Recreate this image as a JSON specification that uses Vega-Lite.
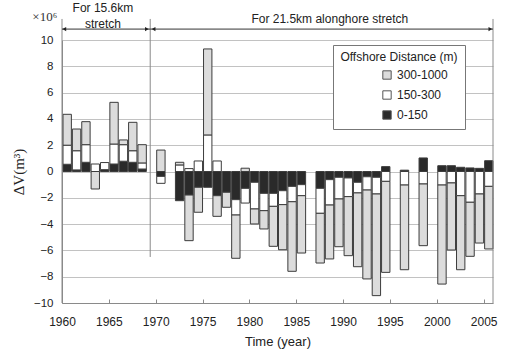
{
  "$schema": "https://vega.github.io/schema/vega-lite/v6.json",
  "width": 431,
  "height": 263,
  "autosize": {"type": "none"},
  "padding": {"left": 62, "top": 40, "right": 12, "bottom": 50},
  "background": "white",
  "config": {
    "font": "Liberation Sans",
    "view": {"stroke": null}
  },
  "datasets": {
    "bars": [
      {"year": "1960", "zone": "0-150", "v": 0.55}, {"year": "1960", "zone": "150-300", "v": 1.45}, {"year": "1960", "zone": "300-1000", "v": 2.35},
      {"year": "1961", "zone": "0-150", "v": 0.12}, {"year": "1961", "zone": "150-300", "v": 1.46}, {"year": "1961", "zone": "300-1000", "v": 1.65},
      {"year": "1962", "zone": "0-150", "v": 0.7}, {"year": "1962", "zone": "150-300", "v": 1.34}, {"year": "1962", "zone": "300-1000", "v": 1.75},
      {"year": "1963", "zone": "150-300", "v": 0.57}, {"year": "1963", "zone": "300-1000", "v": -1.33},
      {"year": "1964", "zone": "0-150", "v": 0.14}, {"year": "1964", "zone": "150-300", "v": 0.86}, {"year": "1964", "zone": "150-300", "v": -0.32},
      {"year": "1965", "zone": "0-150", "v": 0.57}, {"year": "1965", "zone": "150-300", "v": 1.52}, {"year": "1965", "zone": "300-1000", "v": 3.17},
      {"year": "1966", "zone": "0-150", "v": 0.78}, {"year": "1966", "zone": "150-300", "v": 1.26}, {"year": "1966", "zone": "300-1000", "v": 0.36},
      {"year": "1967", "zone": "0-150", "v": 0.7}, {"year": "1967", "zone": "150-300", "v": 0.88}, {"year": "1967", "zone": "300-1000", "v": 2.16},
      {"year": "1968", "zone": "0-150", "v": 0.19}, {"year": "1968", "zone": "150-300", "v": 0.46}, {"year": "1968", "zone": "300-1000", "v": 1.39},
      {"year": "1970", "zone": "300-1000", "v": 1.63}, {"year": "1970", "zone": "0-150", "v": -0.37}, {"year": "1970", "zone": "150-300", "v": -0.53},
      {"year": "1972", "zone": "150-300", "v": 0.5}, {"year": "1972", "zone": "300-1000", "v": 0.2}, {"year": "1972", "zone": "0-150", "v": -2.22},
      {"year": "1973", "zone": "150-300", "v": 0.22}, {"year": "1973", "zone": "0-150", "v": -1.79}, {"year": "1973", "zone": "300-1000", "v": -3.47},
      {"year": "1974", "zone": "150-300", "v": 0.8}, {"year": "1974", "zone": "0-150", "v": -1.2}, {"year": "1974", "zone": "300-1000", "v": -1.9},
      {"year": "1975", "zone": "150-300", "v": 2.78}, {"year": "1975", "zone": "300-1000", "v": 6.54}, {"year": "1975", "zone": "0-150", "v": -1.2},
      {"year": "1976", "zone": "150-300", "v": 0.8}, {"year": "1976", "zone": "0-150", "v": -1.84}, {"year": "1976", "zone": "300-1000", "v": -1.57},
      {"year": "1977", "zone": "0-150", "v": -1.58}, {"year": "1977", "zone": "300-1000", "v": -1.14},
      {"year": "1978", "zone": "0-150", "v": -2.14}, {"year": "1978", "zone": "150-300", "v": -1.17}, {"year": "1978", "zone": "300-1000", "v": -3.29},
      {"year": "1979", "zone": "300-1000", "v": 0.25}, {"year": "1979", "zone": "0-150", "v": -1.28}, {"year": "1979", "zone": "150-300", "v": -1.12},
      {"year": "1980", "zone": "0-150", "v": -0.82}, {"year": "1980", "zone": "150-300", "v": -2.03}, {"year": "1980", "zone": "300-1000", "v": -1.14},
      {"year": "1981", "zone": "0-150", "v": -1.66}, {"year": "1981", "zone": "150-300", "v": -1.32}, {"year": "1981", "zone": "300-1000", "v": -1.39},
      {"year": "1982", "zone": "0-150", "v": -1.66}, {"year": "1982", "zone": "150-300", "v": -0.99}, {"year": "1982", "zone": "300-1000", "v": -3.04},
      {"year": "1983", "zone": "0-150", "v": -1.46}, {"year": "1983", "zone": "150-300", "v": -1.06}, {"year": "1983", "zone": "300-1000", "v": -3.43},
      {"year": "1984", "zone": "0-150", "v": -1.13}, {"year": "1984", "zone": "150-300", "v": -1.17}, {"year": "1984", "zone": "300-1000", "v": -5.29},
      {"year": "1985", "zone": "0-150", "v": -1.0}, {"year": "1985", "zone": "150-300", "v": -0.84}, {"year": "1985", "zone": "300-1000", "v": -4.36},
      {"year": "1987", "zone": "0-150", "v": -1.28}, {"year": "1987", "zone": "150-300", "v": -1.9}, {"year": "1987", "zone": "300-1000", "v": -3.78},
      {"year": "1988", "zone": "0-150", "v": -0.62}, {"year": "1988", "zone": "150-300", "v": -1.93}, {"year": "1988", "zone": "300-1000", "v": -4.1},
      {"year": "1989", "zone": "0-150", "v": -0.44}, {"year": "1989", "zone": "150-300", "v": -1.65}, {"year": "1989", "zone": "300-1000", "v": -3.63},
      {"year": "1990", "zone": "0-150", "v": -0.49}, {"year": "1990", "zone": "150-300", "v": -1.42}, {"year": "1990", "zone": "300-1000", "v": -4.49},
      {"year": "1991", "zone": "0-150", "v": -0.82}, {"year": "1991", "zone": "150-300", "v": -0.81}, {"year": "1991", "zone": "300-1000", "v": -5.61},
      {"year": "1992", "zone": "0-150", "v": -0.4}, {"year": "1992", "zone": "150-300", "v": -1.01}, {"year": "1992", "zone": "300-1000", "v": -6.76},
      {"year": "1993", "zone": "0-150", "v": -0.44}, {"year": "1993", "zone": "150-300", "v": -1.27}, {"year": "1993", "zone": "300-1000", "v": -7.73},
      {"year": "1994", "zone": "0-150", "v": 0.37}, {"year": "1994", "zone": "150-300", "v": -0.75}, {"year": "1994", "zone": "300-1000", "v": -6.92},
      {"year": "1996", "zone": "0-150", "v": 0.1}, {"year": "1996", "zone": "150-300", "v": -1.03}, {"year": "1996", "zone": "300-1000", "v": -6.44},
      {"year": "1998", "zone": "0-150", "v": 1.03}, {"year": "1998", "zone": "150-300", "v": -0.95}, {"year": "1998", "zone": "300-1000", "v": -4.69},
      {"year": "2000", "zone": "0-150", "v": 0.44}, {"year": "2000", "zone": "150-300", "v": -1.03}, {"year": "2000", "zone": "300-1000", "v": -7.53},
      {"year": "2001", "zone": "0-150", "v": 0.44}, {"year": "2001", "zone": "150-300", "v": -0.87}, {"year": "2001", "zone": "300-1000", "v": -5.1},
      {"year": "2002", "zone": "0-150", "v": 0.32}, {"year": "2002", "zone": "150-300", "v": -1.84}, {"year": "2002", "zone": "300-1000", "v": -5.63},
      {"year": "2003", "zone": "0-150", "v": 0.27}, {"year": "2003", "zone": "150-300", "v": -2.34}, {"year": "2003", "zone": "300-1000", "v": -4.11},
      {"year": "2004", "zone": "0-150", "v": 0.24}, {"year": "2004", "zone": "150-300", "v": -1.71}, {"year": "2004", "zone": "300-1000", "v": -3.73},
      {"year": "2005", "zone": "0-150", "v": 0.82}, {"year": "2005", "zone": "150-300", "v": -1.13}, {"year": "2005", "zone": "300-1000", "v": -4.76}
    ],
    "vrules": [
      {"x": "1960-01-01", "y": -10, "y2": 11.6},
      {"x": "1969-06-01", "y": -6.5, "y2": 11.6},
      {"x": "2006-01-01", "y": -10, "y2": 11.6}
    ],
    "hrules": [
      {"x": "1960-01-01", "x2": "1969-06-01", "y": 10.83},
      {"x": "1969-06-01", "x2": "2006-01-01", "y": 10.83}
    ],
    "heads": [
      {"x": "1960-04-01", "dir": "left", "y": 10.83},
      {"x": "1969-01-20", "dir": "right", "y": 10.83},
      {"x": "1969-10-10", "dir": "left", "y": 10.83},
      {"x": "2005-09-20", "dir": "right", "y": 10.83}
    ],
    "notes": [
      {"x": "1964-05-15", "y": 12.45, "t": ["For 15.6km", "stretch"]},
      {"x": "1988-08-01", "y": 11.6, "t": ["For 21.5km alonghore stretch"]}
    ],
    "unit": [
      {"x": "1958-03-01", "y": 11.75, "t": "×10⁶"}
    ]
  },
  "encoding": {
    "y": {
      "type": "quantitative",
      "scale": {"domain": [-10, 10], "nice": false, "zero": false},
      "axis": {
        "title": "ΔV(m³)",
        "values": [-10, -8, -6, -4, -2, 0, 2, 4, 6, 8, 10],
        "tickCount": 11,
        "grid": true,
        "gridColor": "#c2c2c2",
        "ticks": false,
        "domainColor": "#8a8a8a",
        "labelPadding": 9,
        "labelFontSize": 11.5,
        "labelColor": "#222",
        "labelOverlap": false,
        "labelFlush": false,
        "titleFont": "Liberation Serif",
        "titleFontSize": 15,
        "titleFontWeight": "normal",
        "titleColor": "#222",
        "titlePadding": 7
      }
    }
  },
  "layer": [
    {
      "data": {"name": "bars"},
      "mark": {"type": "bar", "stroke": "#3c3c3c", "strokeWidth": 1, "timeUnitBandSize": 0.74},
      "encoding": {
        "x": {
          "field": "year", "type": "temporal", "timeUnit": "utcyear",
          "scale": {"type": "utc", "domain": [{"year": 1960, "utc": true}, {"year": 2006, "utc": true}], "nice": false},
          "axis": {
            "title": "Time (year)",
            "values": [
              {"year": 1960, "utc": true}, {"year": 1965, "utc": true}, {"year": 1970, "utc": true},
              {"year": 1975, "utc": true}, {"year": 1980, "utc": true}, {"year": 1985, "utc": true},
              {"year": 1990, "utc": true}, {"year": 1995, "utc": true}, {"year": 2000, "utc": true},
              {"year": 2005, "utc": true}
            ],
            "format": "%Y",
            "grid": false,
            "domainColor": "#8a8a8a",
            "tickColor": "#8a8a8a",
            "tickSize": -4,
            "labelPadding": 17,
            "labelFontSize": 12,
            "labelColor": "#222",
            "labelFlush": false,
            "labelOverlap": false,
            "titleFontSize": 13,
            "titleFontWeight": "normal",
            "titleColor": "#222",
            "titlePadding": 8
          }
        },
        "y": {"field": "v", "aggregate": "sum"},
        "color": {
          "field": "zone", "type": "nominal",
          "scale": {"domain": ["300-1000", "150-300", "0-150"], "range": ["#dcdcdc", "#ffffff", "#2a2a2a"]},
          "legend": {
            "title": "Offshore Distance (m)",
            "orient": "none",
            "legendX": 271,
            "legendY": 5,
            "titleAnchor": "middle",
            "titleFontSize": 12,
            "titleFontWeight": "normal",
            "titleColor": "#222",
            "labelFontSize": 12,
            "labelColor": "#222",
            "symbolType": "square",
            "symbolSize": 70,
            "symbolStrokeColor": "#555",
            "symbolStrokeWidth": 1,
            "symbolOffset": 30,
            "rowPadding": 6,
            "padding": 7,
            "strokeColor": "#777",
            "fillColor": "white"
          }
        },
        "order": {"field": "zone", "type": "nominal", "sort": "ascending"}
      }
    },
    {
      "data": {"name": "vrules"},
      "mark": {"type": "rule", "color": "#8a8a8a", "strokeWidth": 1},
      "encoding": {
        "x": {"field": "x", "type": "temporal"},
        "y": {"field": "y"},
        "y2": {"field": "y2"}
      }
    },
    {
      "data": {"name": "hrules"},
      "mark": {"type": "rule", "color": "#333", "strokeWidth": 1},
      "encoding": {
        "x": {"field": "x", "type": "temporal"},
        "x2": {"field": "x2"},
        "y": {"field": "y"}
      }
    },
    {
      "data": {"name": "heads"},
      "mark": {"type": "point", "filled": true, "color": "#222", "size": 18, "opacity": 1},
      "encoding": {
        "x": {"field": "x", "type": "temporal"},
        "y": {"field": "y"},
        "shape": {"field": "dir", "type": "nominal", "scale": {"domain": ["left", "right"], "range": ["triangle-left", "triangle-right"]}, "legend": null}
      }
    },
    {
      "data": {"name": "notes"},
      "mark": {"type": "text", "fontSize": 12, "color": "#222", "lineHeight": 16, "baseline": "middle", "align": "center"},
      "encoding": {
        "x": {"field": "x", "type": "temporal"},
        "y": {"field": "y"},
        "text": {"field": "t"}
      }
    },
    {
      "data": {"name": "unit"},
      "mark": {"type": "text", "fontSize": 13, "font": "Liberation Serif", "color": "#333", "baseline": "middle", "align": "center"},
      "encoding": {
        "x": {"field": "x", "type": "temporal"},
        "y": {"field": "y"},
        "text": {"field": "t"}
      }
    }
  ]
}
